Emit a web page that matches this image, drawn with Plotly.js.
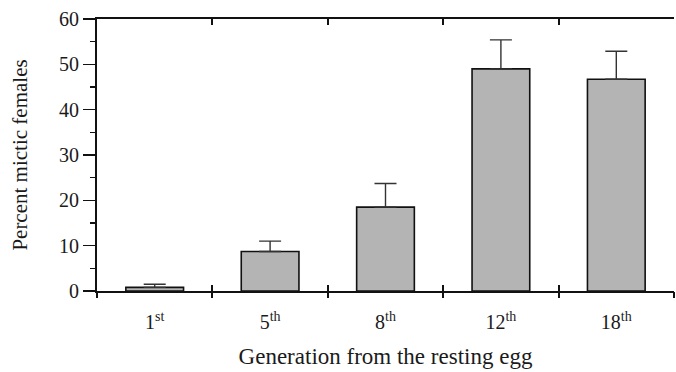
<!DOCTYPE html>
<html><head><meta charset="utf-8">
<script src="https://cdn.plot.ly/plotly-3.0.1.min.js"></script>
<style>html,body{margin:0;padding:0;background:#fff}#c{width:676px;height:372px}</style>
</head><body><div id="c"></div>
<script>
const categories = ["1<sup>st</sup>", "5<sup>th</sup>", "8<sup>th</sup>", "12<sup>th</sup>", "18<sup>th</sup>"];
const meanValues = [0.8, 8.7, 18.5, 49.0, 46.7];
const errorValues = [0.7, 2.3, 5.2, 6.4, 6.2];
const yTitle = "Percent mictic females";
const xTitle = "Generation from the resting egg";

const font = {family: "Liberation Serif, Times New Roman, serif", color: "#1a1a1a"};

const traces = [
  {
    type: "bar", x: categories, y: meanValues,
    marker: {color: "#b4b4b4", line: {color: "#111", width: 1.6}},
    error_y: {type: "data", array: errorValues, arrayminus: errorValues.map(() => 0), symmetric: false,
              color: "#333", thickness: 1.4, width: 11},
    hoverinfo: "skip", showlegend: false
  },
  {
    type: "scatter", mode: "markers", x: categories, y: meanValues, xaxis: "x2", yaxis: "y",
    marker: {opacity: 0}, hoverinfo: "skip", showlegend: false
  }
];

const layout = {
  width: 676, height: 372,
  margin: {l: 97, r: 2, t: 19, b: 81},
  paper_bgcolor: "#fff", plot_bgcolor: "#fff",
  bargap: 0.5,
  font: Object.assign({size: 20}, font),
  xaxis: {
    type: "category", categoryarray: categories, range: [-0.5, 4.5],
    showline: true, linecolor: "#111", linewidth: 2, mirror: "ticks",
    ticks: "inside", tickson: "boundaries", ticklen: 6, tickwidth: 2, tickcolor: "#111",
    showgrid: false, ticklabelstandoff: 12,
    tickfont: Object.assign({size: 20}, font),
    title: {text: xTitle, font: Object.assign({size: 23}, font), standoff: 16}
  },
  xaxis2: {
    type: "category", categoryarray: categories, range: [-0.5, 4.5], overlaying: "x",
    showline: false, ticks: "outside", tickson: "boundaries", ticklen: 6, tickwidth: 2, tickcolor: "#111",
    showticklabels: false, showgrid: false
  },
  yaxis: {
    range: [0, 60], dtick: 10, showline: true, linecolor: "#111", linewidth: 2,
    ticks: "outside", ticklen: 12, tickwidth: 1.6, tickcolor: "#111",
    minor: {dtick: 5, ticks: "outside", ticklen: 5, tickwidth: 1.6, tickcolor: "#111"},
    showgrid: false, zeroline: false,
    tickfont: Object.assign({size: 20}, font),
    title: {text: yTitle, font: Object.assign({size: 21}, font), standoff: 26}
  },
  yaxis2: {
    range: [0, 60], overlaying: "y", side: "right", dtick: 5,
    showline: true, linecolor: "#111", linewidth: 2,
    ticks: "inside", ticklen: 6, tickwidth: 1.6, tickcolor: "#111",
    showticklabels: false, showgrid: false, zeroline: false
  }
};

Plotly.newPlot("c", traces, layout, {displayModeBar: false, staticPlot: true});
</script></body></html>
